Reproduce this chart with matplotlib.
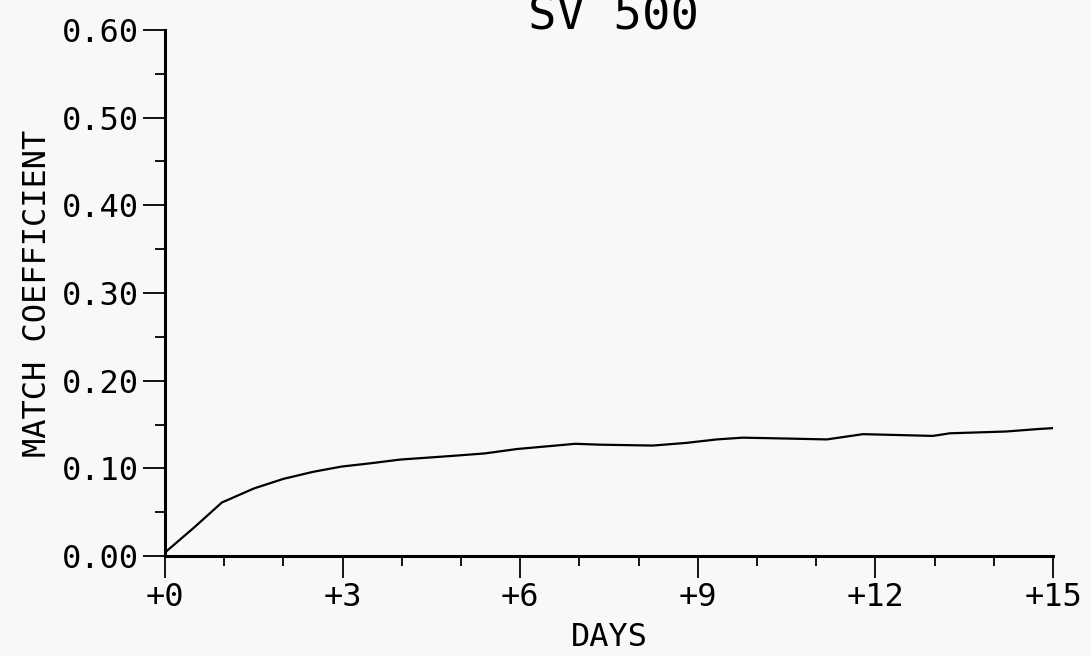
import matplotlib
matplotlib.use('Agg')
import matplotlib.pyplot as plt
from matplotlib.ticker import MultipleLocator, FuncFormatter

# values
days = [0.0, 0.5, 0.96, 1.5, 2.0, 2.5, 2.98, 3.5, 3.97, 4.81, 5.4, 5.94, 6.93,
        7.35, 8.24, 8.8, 9.32, 9.76, 10.5, 11.18, 11.79, 12.97, 13.26, 14.2,
        14.78, 15.03]
match = [0.004, 0.033, 0.061, 0.077, 0.088, 0.096, 0.102, 0.106, 0.110,
         0.114, 0.117, 0.122, 0.128, 0.127, 0.126, 0.129, 0.133, 0.135,
         0.134, 0.133, 0.139, 0.137, 0.140, 0.142, 0.145, 0.146]

title = 'SV 500'
xlabel = 'DAYS'
ylabel = 'MATCH COEFFICIENT'

bg = '#f8f8f6'
plt.rcParams['font.family'] = 'DejaVu Sans Mono'

fig = plt.figure(figsize=(10.91, 6.56), dpi=100, facecolor=bg)
ax = fig.add_axes([0.1512, 0.1524, 0.8140, 0.8019], facecolor=bg)

ax.plot(days, match, color='black', lw=1.6)

ax.set_xlim(0, 15)
ax.set_ylim(0, 0.60)
for s in ['top', 'right']:
    ax.spines[s].set_visible(False)
for s in ['left', 'bottom']:
    ax.spines[s].set_linewidth(2.2)

ax.xaxis.set_major_locator(MultipleLocator(3))
ax.xaxis.set_minor_locator(MultipleLocator(1))
ax.yaxis.set_major_locator(MultipleLocator(0.1))
ax.yaxis.set_minor_locator(MultipleLocator(0.05))
ax.xaxis.set_major_formatter(FuncFormatter(lambda v, p: '+%d' % round(v)))
ax.yaxis.set_major_formatter(FuncFormatter(lambda v, p: '%.2f' % v))

ax.tick_params(which='major', direction='out', length=16, width=1.3,
               labelsize=23, pad=3, color='black')
ax.tick_params(which='minor', direction='out', length=7, width=1.3,
               color='black')

ax.set_xlabel(xlabel, fontsize=23, labelpad=6)
ax.set_ylabel(ylabel, fontsize=23, labelpad=6)
fig.text(0.562, 0.955, title, fontsize=34, ha='center', va='baseline')

fig.savefig('out.png', dpi=100, facecolor=bg)
